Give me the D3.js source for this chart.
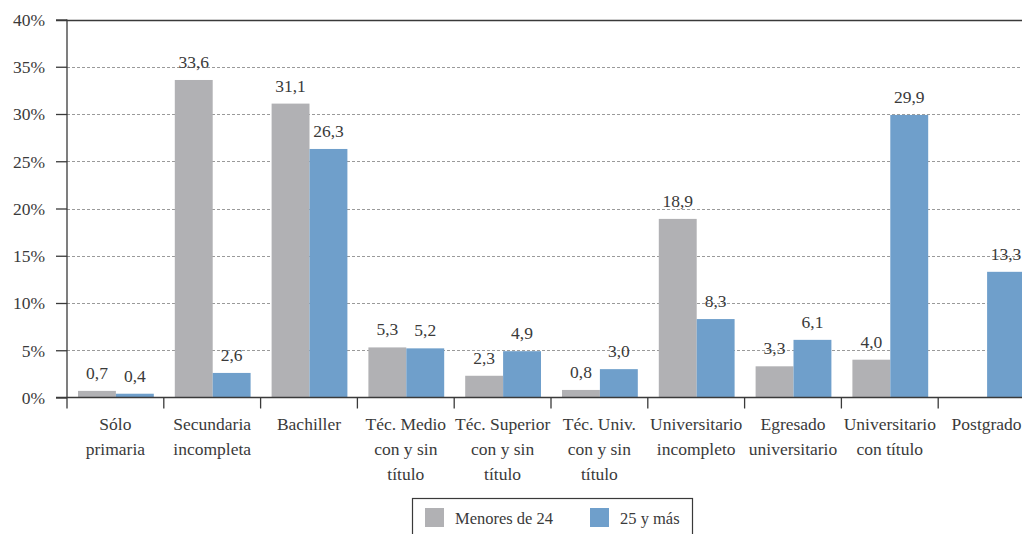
<!DOCTYPE html>
<html>
<head>
<meta charset="utf-8">
<script src="https://cdn.jsdelivr.net/npm/d3@7"></script>
<style>
  html, body { margin: 0; padding: 0; background: #fff; overflow: hidden; }
  svg { display: block; }
</style>
</head>
<body>
<svg id="chart" width="1022" height="534"></svg>
<script>
const categories = [
  ["Sólo", "primaria"],
  ["Secundaria", "incompleta"],
  ["Bachiller"],
  ["Téc. Medio", "con y sin", "título"],
  ["Téc. Superior", "con y sin", "título"],
  ["Téc. Univ.", "con y sin", "título"],
  ["Universitario", "incompleto"],
  ["Egresado", "universitario"],
  ["Universitario", "con título"],
  ["Postgrado"]
];
const seriesNames = ["Menores de 24", "25 y más"];
const menores24 = [0.7, 33.6, 31.1, 5.3, 2.3, 0.8, 18.9, 3.3, 4.0, null];
const mas25 = [0.4, 2.6, 26.3, 5.2, 4.9, 3.0, 8.3, 6.1, 29.9, 13.3];
const yTicks = [0, 5, 10, 15, 20, 25, 30, 35, 40];
const colors = ["#b1b1b4", "#6f9fcb"];

(function () {
const FONT = "'Liberation Serif', 'DejaVu Serif', serif";
const TXT = "#3a3a3a";
const svg = d3.select("#chart");
const mLeft = 67, mRight = 1035, mTop = 19.5, mBottom = 397.5;
const catKeys = categories.map((c, i) => i);

const x = d3.scaleBand().domain(catKeys).range([mLeft, mRight]).paddingInner(0).paddingOuter(0);
const x1 = d3.scaleBand().domain([0, 1]).range([11, x.bandwidth() - 10]).padding(0);
const y = d3.scaleLinear().domain([0, 40]).range([mBottom, mTop]);

svg.append("g").selectAll("line").data(yTicks.filter(t => t > 0 && t < 40)).join("line")
  .attr("x1", mLeft).attr("x2", 1022)
  .attr("y1", d => Math.round(y(d)) + 0.5).attr("y2", d => Math.round(y(d)) + 0.5)
  .attr("stroke", "#9a9a9a").attr("stroke-width", 1).attr("stroke-dasharray", "3,2");

svg.append("line").attr("x1", 56).attr("x2", 1022)
  .attr("y1", Math.round(y(40)) + 0.5).attr("y2", Math.round(y(40)) + 0.5)
  .attr("stroke", TXT).attr("stroke-width", 1.3);

const series = [menores24, mas25];
series.forEach((vals, si) => {
  svg.append("g").selectAll("rect").data(vals.map((v, i) => ({v, i})).filter(d => d.v != null)).join("rect")
    .attr("x", d => x(d.i) + x1(si))
    .attr("width", x1.bandwidth())
    .attr("y", d => y(d.v))
    .attr("height", d => y(0) - y(d.v))
    .attr("fill", colors[si]);
});

const fmt = v => d3.format(".1f")(v).replace(".", ",");
series.forEach((vals, si) => {
  svg.append("g").selectAll("text").data(vals.map((v, i) => ({v, i})).filter(d => d.v != null)).join("text")
    .attr("x", d => x(d.i) + x1(si) + x1.bandwidth() / 2)
    .attr("y", d => y(d.v) - 12)
    .attr("text-anchor", "middle")
    .style("font-family", FONT).style("font-size", "17.5px").style("fill", TXT)
    .text(d => fmt(d.v));
});

const yAxis = d3.axisLeft(y).tickValues(yTicks).tickSize(11).tickFormat(d => d + "%");
const gy = svg.append("g").attr("transform", `translate(${mLeft},0)`).call(yAxis);
gy.select(".domain").remove();
gy.selectAll(".tick line").attr("stroke", TXT).attr("stroke-width", 1.3);
gy.selectAll(".tick text").attr("x", -22).attr("dy", "0.33em")
  .style("font-family", FONT).style("font-size", "17.5px").style("fill", TXT);

svg.append("line").attr("x1", mLeft).attr("x2", mLeft).attr("y1", y(40)).attr("y2", mBottom + 11)
  .attr("stroke", TXT).attr("stroke-width", 1.3);

svg.append("line").attr("x1", 56).attr("x2", 1022).attr("y1", mBottom).attr("y2", mBottom)
  .attr("stroke", TXT).attr("stroke-width", 1.3);

svg.append("g").selectAll("line").data(catKeys.slice(1)).join("line")
  .attr("x1", d => x(d)).attr("x2", d => x(d))
  .attr("y1", mBottom).attr("y2", mBottom + 11)
  .attr("stroke", TXT).attr("stroke-width", 1.3);

const lab = svg.append("g").selectAll("text").data(categories.map((c, i) => ({c, i}))).join("text")
  .attr("text-anchor", "middle")
  .style("font-family", FONT).style("font-size", "17.5px").style("fill", TXT);
lab.each(function(d) {
  const t = d3.select(this);
  d.c.forEach((line, k) => {
    t.append("tspan").attr("x", x(d.i) + x.bandwidth() / 2).attr("y", 430 + k * 25).text(line);
  });
});

const lg = svg.append("g");
lg.append("rect").attr("x", 412.5).attr("y", 498.5).attr("width", 280).attr("height", 50)
  .attr("fill", "none").attr("stroke", TXT).attr("stroke-width", 1.2);
const legX = [425, 590];
seriesNames.forEach((n, i) => {
  lg.append("rect").attr("x", legX[i]).attr("y", 508).attr("width", 19).attr("height", 19).attr("fill", colors[i]);
  lg.append("text").attr("x", legX[i] + 30).attr("y", 524)
    .style("font-family", FONT).style("font-size", "16.5px").style("fill", TXT).text(n);
});
})();
</script>
</body>
</html>
